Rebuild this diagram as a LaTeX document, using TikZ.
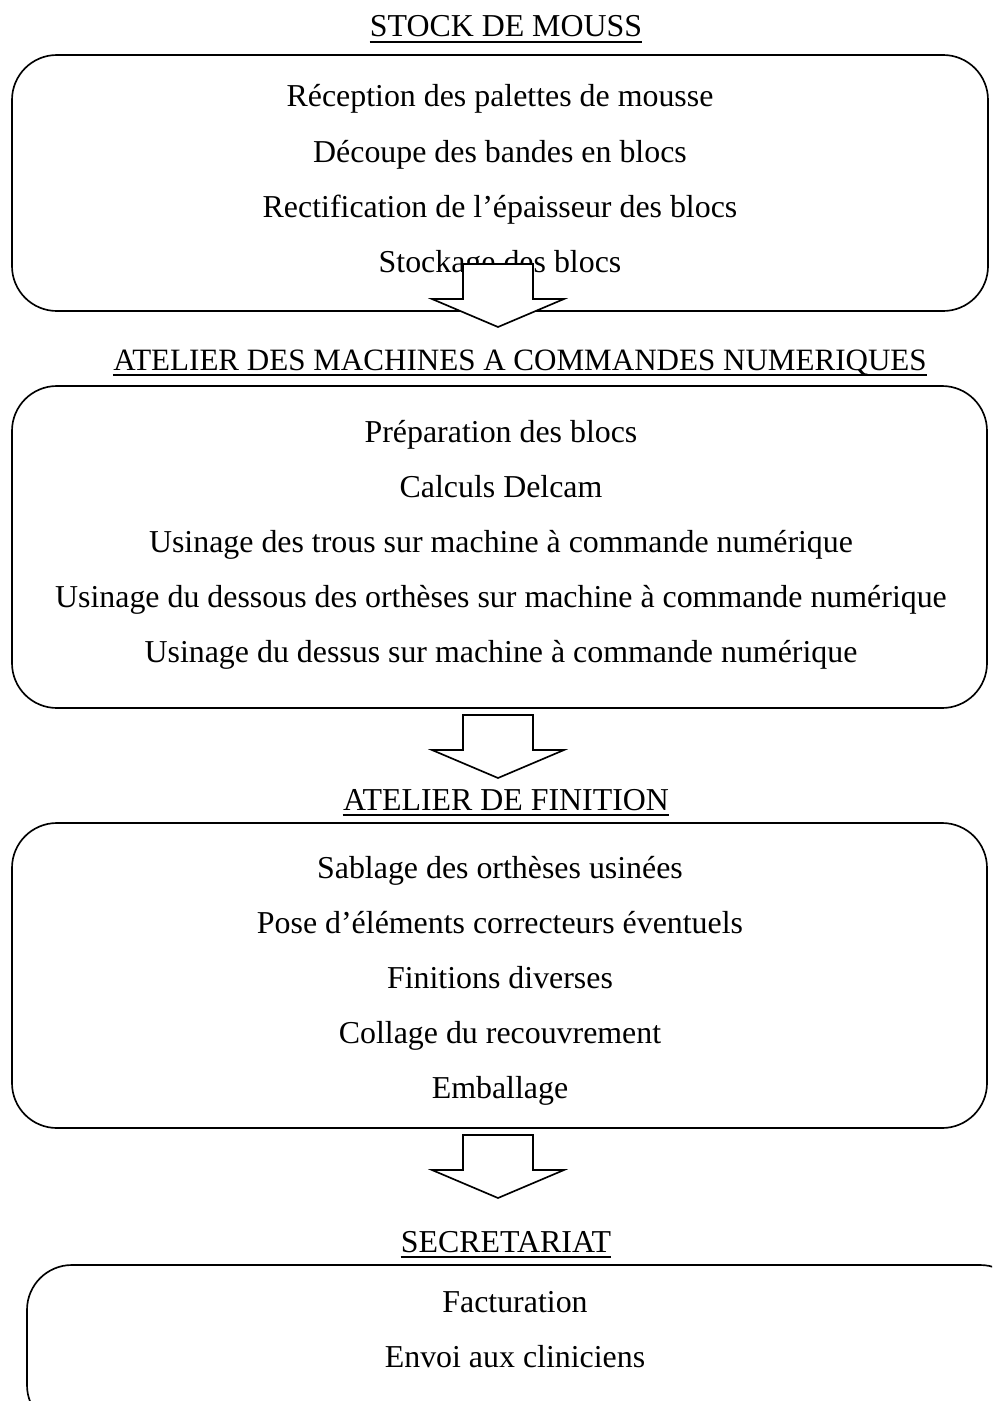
\documentclass[tikz,border=0pt]{standalone}
\usepackage{fontspec}
\setmainfont{Liberation Serif}
\begin{document}
\begin{tikzpicture}[x=0.02117cm,y=-0.02117cm,
    box/.style={draw,line width=1pt,rounded corners=0.95cm},
    task/.style={anchor=base,font=\fontsize{19.2}{23}\selectfont},
    heading/.style={anchor=base,inner sep=0pt,font=\fontsize{19.2}{23}\selectfont}]
    \clip (0,0) rectangle (992,1401);
    \fill[white] (0,0) rectangle (992,1401);

    % stock
    \node[heading] (stock) at (506,37) {STOCK DE MOUSS};
    \draw[box] (12,55) rectangle (988,311);
    \foreach \txt [count=\i] in {R\'eception des palettes de mousse,
      D\'ecoupe des bandes en blocs,
      Rectification de l’\'epaisseur des blocs,
      Stockage des blocs}
      \node[task] (s\i) at (500,52+55*\i) {\txt};

    % machines
    \node[heading,font=\fontsize{18.7}{23}\selectfont] (cn) at (520,370) {ATELIER DES MACHINES A COMMANDES NUMERIQUES};
    \draw[box] (12,386) rectangle (987,708);
    \foreach \txt [count=\i] in {Pr\'eparation des blocs,
      Calculs Delcam,
      Usinage des trous sur machine \`a commande num\'erique,
      Usinage du dessous des orth\`eses sur machine \`a commande num\'erique,
      Usinage du dessus sur machine \`a commande num\'erique}
      \node[task] (m\i) at (501,387+55*\i) {\txt};

    % finition
    \node[heading] (fin) at (506,810) {ATELIER DE FINITION};
    \draw[box] (12,823) rectangle (987,1128);
    \foreach \txt [count=\i] in {Sablage des orth\`eses usin\'ees,
      Pose d’\'el\'ements correcteurs \'eventuels,
      Finitions diverses,
      Collage du recouvrement,
      Emballage}
      \node[task] (f\i) at (500,823+55*\i) {\txt};

    % secretariat
    \node[heading] (sec) at (506,1252) {SECRETARIAT};
    \draw[box] (27,1265) rectangle (1025,1430);
    \foreach \txt [count=\i] in {Facturation,
      Envoi aux cliniciens}
      \node[task] (e\i) at (515,1257+55*\i) {\txt};

    % underlines
    \foreach \n in {stock,cn,fin,sec}
      \draw[line width=1.2pt] ([yshift=-3pt]\n.base west) -- ([yshift=-3pt]\n.base east);

    % arrows
    \foreach \y in {264,715,1135}
      \draw[line width=1pt,fill=white] (463,\y) -- (533,\y) -- (533,\y+35)
        -- (564,\y+35) -- (498,\y+63) -- (432,\y+35) -- (463,\y+35) -- cycle;
\end{tikzpicture}
\end{document}
